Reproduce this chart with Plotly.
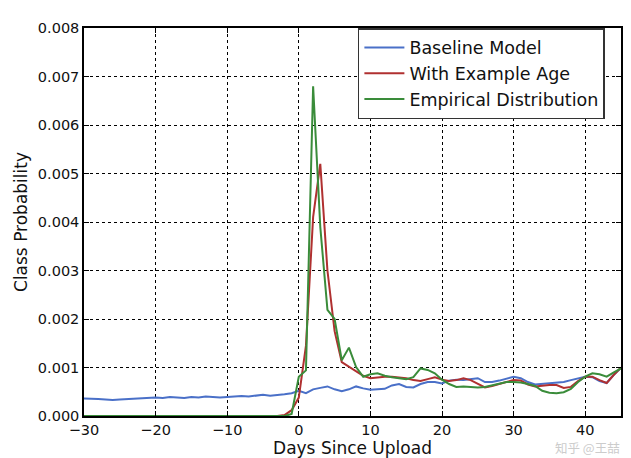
import plotly.graph_objects as go

days = list(range(-30, 46))

baseline = [0.36,0.36,0.35,0.34,0.33,0.34,0.35,0.36,0.37,0.38,
            0.38,0.37,0.39,0.38,0.37,0.39,0.38,0.40,0.39,0.38,
            0.39,0.40,0.41,0.40,0.42,0.44,0.42,0.43,0.45,0.47,
            0.52,0.47,0.55,0.58,0.61,0.55,0.51,0.55,0.61,0.57,
            0.54,0.55,0.56,0.63,0.66,0.60,0.59,0.66,0.70,0.70,
            0.67,0.73,0.75,0.74,0.76,0.78,0.70,0.70,0.73,0.77,
            0.81,0.78,0.70,0.65,0.66,0.68,0.69,0.70,0.74,0.77,
            0.81,0.80,0.72,0.68,0.85,0.99]

with_age = [0]*28 + [0.02,0.12,
            0.38,1.45,4.1,5.2,3.0,1.75,1.11,1.02,0.93,0.83,
            0.78,0.80,0.81,0.81,0.80,0.78,0.74,0.72,0.76,0.80,
            0.75,0.72,0.74,0.78,0.74,0.66,0.59,0.62,0.66,0.71,
            0.74,0.73,0.65,0.61,0.63,0.64,0.64,0.58,0.60,0.72,
            0.81,0.81,0.74,0.68,0.85,1.0]

empirical = [0]*29 + [0.04,
            0.81,0.94,6.8,3.9,2.19,2.0,1.15,1.41,1.01,0.81,
            0.86,0.88,0.83,0.80,0.78,0.76,0.80,0.98,0.95,0.88,
            0.75,0.66,0.60,0.61,0.60,0.59,0.60,0.63,0.66,0.70,
            0.70,0.69,0.66,0.62,0.52,0.48,0.47,0.49,0.56,0.70,
            0.81,0.88,0.86,0.81,0.90,0.98]

series = [
    ("Baseline Model", baseline, "#4a70c8"),
    ("With Example Age", with_age, "#b03030"),
    ("Empirical Distribution", empirical, "#3a8c3a"),
]

fig = go.Figure()
for name, vals, col in series:
    fig.add_trace(go.Scatter(
        x=days, y=[v / 1000 for v in vals], mode="lines", name=name,
        line=dict(color=col, width=2)))

axis_common = dict(
    showline=True, linecolor="black", linewidth=1.5, mirror="ticks",
    ticks="inside", ticklen=5, tickcolor="black",
    showgrid=True, gridcolor="black", gridwidth=1, griddash="dot",
    zeroline=False,
    tickfont=dict(family="DejaVu Sans", size=14.5, color="#111"),
)

fig.update_xaxes(range=[-30, 45], dtick=10, tick0=0,
                 title=dict(text="Days Since Upload", standoff=4,
                            font=dict(family="DejaVu Sans", size=17, color="#111")),
                 **axis_common)
fig.update_yaxes(range=[0, 0.008], dtick=0.001, tickformat=".3f",
                 title=dict(text="Class Probability", standoff=6,
                            font=dict(family="DejaVu Sans", size=17, color="#111")),
                 **axis_common)

fig.add_annotation(text="知乎 @王喆", xref="paper", yref="paper",
                   x=1.0, y=-0.081, xanchor="right", yanchor="middle",
                   showarrow=False, borderpad=0,
                   font=dict(family="Noto Sans CJK SC", size=12.5, color="#cccccc"))

fig.update_layout(
    width=631, height=458,
    margin=dict(l=73, r=18, t=19, b=41),
    plot_bgcolor="white", paper_bgcolor="white",
    legend=dict(x=0.97, y=1.0, xanchor="right", yanchor="top",
                bgcolor="white", bordercolor="#333", borderwidth=1.5,
                font=dict(family="DejaVu Sans", size=17.5, color="#111"),
                itemwidth=40, tracegroupgap=0),
    showlegend=True,
)

fig.write_html("out.html")
